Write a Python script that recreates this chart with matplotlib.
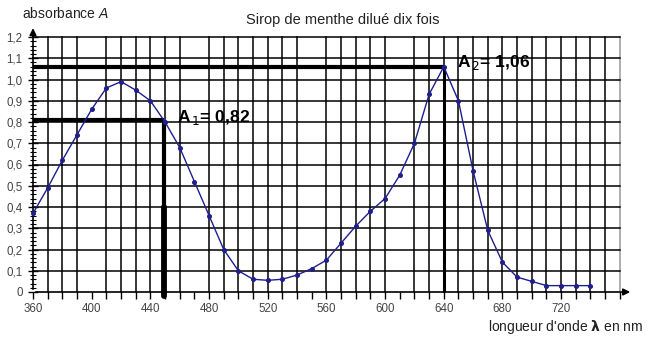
import matplotlib
matplotlib.use("Agg")
import matplotlib.pyplot as plt
import numpy as np

plt.rcParams['font.family'] = ['Liberation Sans', 'DejaVu Sans']

# --- data ---
wavelength = [360, 370, 380, 390, 400, 410, 420, 430, 440, 450,
              460, 470, 480, 490, 500, 510, 520, 530, 540, 550,
              560, 570, 580, 590, 600, 610, 620, 630, 640, 650,
              660, 670, 680, 690, 700, 710, 720, 730, 740]
absorbance = [0.37, 0.49, 0.62, 0.74, 0.86, 0.96, 0.99, 0.95, 0.90, 0.80,
              0.68, 0.52, 0.36, 0.20, 0.10, 0.06, 0.055, 0.06, 0.08, 0.11,
              0.15, 0.23, 0.31, 0.38, 0.44, 0.55, 0.70, 0.93, 1.06, 0.90,
              0.57, 0.29, 0.14, 0.07, 0.05, 0.03, 0.03, 0.03, 0.03]
xtick_vals = [360, 400, 440, 480, 520, 560, 600, 640, 680, 720]
ytick_vals = [0, 0.1, 0.2, 0.3, 0.4, 0.5, 0.6, 0.7, 0.8, 0.9, 1.0, 1.1, 1.2]
ytick_labels = ["0", "0,1", "0,2", "0,3", "0,4", "0,5", "0,6", "0,7", "0,8", "0,9", "1,0", "1,1", "1,2"]
lambda1, A1 = 449, 0.81
lambda2, A2 = 640, 1.06
missing_vgrid = [400, 470, 550, 610]

W, H = 647, 338
fig = plt.figure(figsize=(W / 100, H / 100), dpi=100)
# 360 nm at x=33px, 1.467 px/nm ; A=0 at y=292px, 212.5 px per unit
x0, x1 = 360, 770
y0, y1 = 0, 1.25
left = 33 / W
width = (x1 - x0) * 1.467 / W
bottom = (H - 292) / H
height = (y1 - y0) * 212.5 / H
ax = fig.add_axes([left, bottom, width, height])
ax.set_xlim(x0, x1)
ax.set_ylim(y0, y1)
for s in ax.spines.values():
    s.set_visible(False)

# grid
for xv in range(370, 770, 10):
    if xv in missing_vgrid:
        continue
    col = '#999999' if xv == 760 else 'black'
    ax.plot([xv, xv], [0, 1.2], color=col, lw=1.1, zorder=1, clip_on=False)
for yv in ytick_vals[1:]:
    ax.plot([360, 760], [yv, yv], color='black', lw=1.1, zorder=1, clip_on=False)

# axes with arrows
ax.annotate('', xy=(769, 0), xytext=(360, 0),
            arrowprops=dict(arrowstyle='-|>', color='black', lw=1.2, mutation_scale=10),
            annotation_clip=False, zorder=3)
ax.annotate('', xy=(360, 1.255), xytext=(360, 0),
            arrowprops=dict(arrowstyle='-|>', color='black', lw=1.2, mutation_scale=10),
            annotation_clip=False, zorder=3)

# ticks
ax.set_xticks(xtick_vals)
ax.set_xticklabels([str(v) for v in xtick_vals])
ax.set_xticks(np.arange(360, 770, 10), minor=True)
ax.tick_params(axis='x', which='both', direction='out', length=5, width=1.0,
               labelsize=8.3, labelcolor='#444444', pad=3)
ax.set_yticks(ytick_vals)
ax.set_yticklabels(ytick_labels)
ax.set_yticks(np.arange(0, 1.21, 0.02), minor=True)
ax.tick_params(axis='y', which='major', direction='inout', length=7, width=1.0,
               labelsize=8.3, labelcolor='#444444', pad=4)
ax.tick_params(axis='y', which='minor', direction='inout', length=4, width=0.8)

# curve
ax.plot(wavelength, absorbance, color='#1e1e8e', lw=1.0, marker='o', ms=2.6,
        zorder=4, clip_on=False)

# construction lines
ax.plot([360, lambda2], [A2, A2], color='black', lw=3, zorder=2, solid_capstyle='butt', clip_on=False)
ax.plot([lambda2, lambda2], [A2, 0], color='black', lw=2.2, zorder=2, solid_capstyle='butt', clip_on=False)
ax.plot([360, lambda1], [A1, A1], color='black', lw=3, zorder=2, solid_capstyle='butt', clip_on=False)
ax.plot([lambda1, lambda1], [A1, 0.4], color='black', lw=3, zorder=2, solid_capstyle='butt', clip_on=False)
ax.plot([lambda1, lambda1], [0.4, -0.02], color='black', lw=4.2, zorder=2, solid_capstyle='round', clip_on=False)

# annotations
ax.text(lambda1 + 9, A1 + 0.01, r'A$_{\,1}$= 0,82', fontsize=12.5, fontweight='bold',
        ha='left', va='center', zorder=5)
ax.text(lambda2 + 9, A2 + 0.02, r'A$_{\,2}$= 1,06', fontsize=12.5, fontweight='bold',
        ha='left', va='center', zorder=5)

# titles
fig.text(343 / W, 1 - 20 / H, 'Sirop de menthe dilué dix fois', fontsize=10.5,
         ha='center', va='center', color='#222222')
fig.text(22 / W, 1 - 14 / H, 'absorbance $\\mathit{A}$', fontsize=10,
         ha='left', va='center', color='#222222')
fig.text(643 / W, 1 - 327 / H, "longueur d'onde $\\boldsymbol{\\lambda}$ en nm", fontsize=10,
         ha='right', va='center', color='#222222')

fig.savefig('out.png', dpi=100)
